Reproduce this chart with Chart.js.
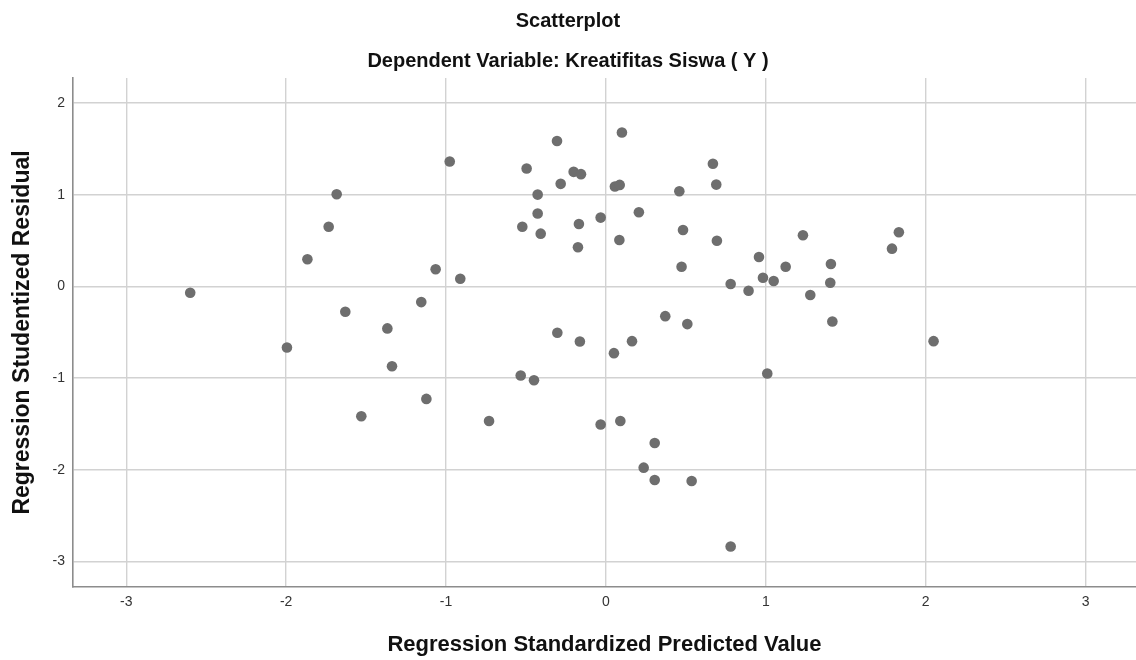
<!DOCTYPE html>
<html>
<head>
<meta charset="utf-8">
<title>Scatterplot</title>
<script src="https://cdn.jsdelivr.net/npm/chart.js@4.4.0/dist/chart.umd.min.js"></script>
<style>
  body { margin: 0; background: #fff; }
  #chart { display: block; }
</style>
</head>
<body>
<canvas id="chart" width="1136" height="660"></canvas>
<script>
// values
const predicted = [
  -2.60, -1.684, -1.734, -1.867, -1.630, -1.367, -1.995, -1.338, -1.530,
  -0.977, -0.306, 0.100, -0.496, -0.202, -0.156, -0.283, 0.056, 0.086,
  0.669, 0.690, 0.459, -0.427, -0.427, -0.523, -0.408, -0.169, -0.175,
  -0.033, 0.206, 0.084, 0.482, 0.694, 0.473, 0.957, 0.982, 1.049,
  0.780, 0.892, -1.065, -0.911, -1.155, 0.371, 0.509, -0.304, -0.163,
  0.163, 0.050, -0.533, -0.450, 1.009, -1.123, -0.731, -0.033, 0.090,
  0.305, 0.236, 0.305, 0.536, 0.780, 1.232, 1.832, 1.789, 1.124,
  1.407, 1.403, 1.278, 1.416, 2.049
];
const residual = [
  -0.07, 1.005, 0.651, 0.295, -0.277, -0.459, -0.667, -0.871, -1.417,
  1.362, 1.585, 1.679, 1.285, 1.249, 1.224, 1.118, 1.089, 1.107,
  1.337, 1.110, 1.038, 1.001, 0.794, 0.651, 0.575, 0.681, 0.426,
  0.750, 0.809, 0.506, 0.615, 0.498, 0.214, 0.320, 0.094, 0.058,
  0.025, -0.048, 0.186, 0.083, -0.172, -0.325, -0.412, -0.507, -0.601,
  -0.598, -0.729, -0.973, -1.024, -0.951, -1.228, -1.469, -1.508, -1.469,
  -1.709, -1.978, -2.113, -2.124, -2.838, 0.557, 0.590, 0.411, 0.214,
  0.244, 0.039, -0.095, -0.383, -0.598
];
const xRange = [-3.333, 3.315];
const yRange = [-3.28, 2.273];

const points = predicted.map((x, i) => ({ x: x, y: residual[i] }));

const fontFamily = "'Liberation Sans', Arial, sans-serif";
const gridColor = '#d2d2d2';
const axisColor = '#8c8c8c';

new Chart(document.getElementById('chart'), {
  type: 'scatter',
  data: {
    datasets: [{
      data: points,
      backgroundColor: '#6e6e6e',
      borderWidth: 0,
      pointRadius: 5.3,
      pointHoverRadius: 5.3
    }]
  },
  options: {
    responsive: false,
    animation: false,
    // no extra room for the dots, the plot runs to the right edge
    layout: { padding: 0, autoPadding: false },
    plugins: {
      legend: { display: false },
      tooltip: { enabled: false },
      title: {
        display: true,
        text: 'Scatterplot',
        color: '#111',
        font: { family: fontFamily, size: 20, weight: 'bold' },
        padding: { top: 9, bottom: 0 }
      },
      subtitle: {
        display: true,
        text: 'Dependent Variable: Kreatifitas Siswa ( Y )',
        color: '#111',
        font: { family: fontFamily, size: 20, weight: 'bold' },
        padding: { top: 16, bottom: 5 }
      }
    },
    scales: {
      x: {
        type: 'linear',
        min: xRange[0],
        max: xRange[1],
        afterFit: (scale) => {
          scale.height = 73;
          scale.paddingLeft = 0;
          scale.paddingRight = 0;
        },
        ticks: {
          stepSize: 1,
          includeBounds: false,
          padding: 7,
          color: '#333',
          font: { family: fontFamily, size: 14 }
        },
        grid: { color: gridColor, lineWidth: 1.4, drawTicks: false },
        border: { display: true, color: axisColor, width: 1.6 },
        title: {
          display: true,
          text: 'Regression Standardized Predicted Value',
          color: '#111',
          font: { family: fontFamily, size: 22, weight: 'bold' },
          padding: { top: 0, bottom: 1.8 }
        }
      },
      y: {
        type: 'linear',
        min: yRange[0],
        max: yRange[1],
        afterFit: (scale) => {
          scale.width = 73;
          scale.paddingTop = 0;
          scale.paddingBottom = 0;
        },
        ticks: {
          stepSize: 1,
          includeBounds: false,
          padding: 8,
          color: '#333',
          font: { family: fontFamily, size: 14 }
        },
        grid: { color: gridColor, lineWidth: 1.4, drawTicks: false },
        border: { display: true, color: axisColor, width: 1.6 },
        title: {
          display: true,
          text: 'Regression Studentized Residual',
          color: '#111',
          font: { family: fontFamily, size: 23, weight: 'bold' },
          padding: { top: 9.2, bottom: 0 }
        }
      }
    }
  }
});
</script>
</body>
</html>
